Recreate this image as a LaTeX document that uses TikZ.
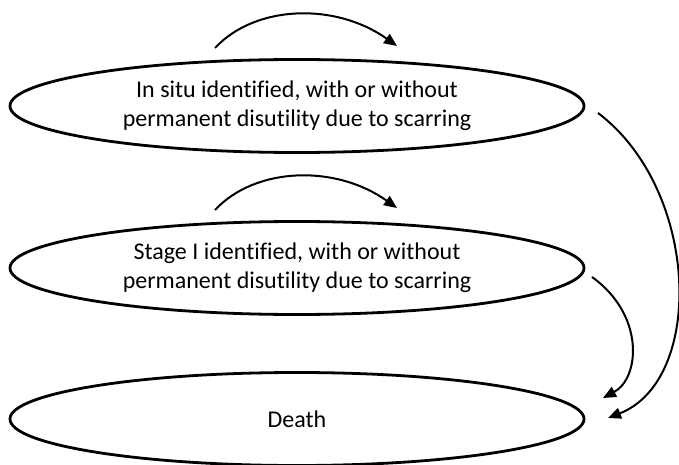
\documentclass[tikz,border=0pt]{standalone}
\usepackage{fontspec}
\setmainfont{Carlito}[Ligatures=NoCommon]
\usepackage{tikz}
\usetikzlibrary{shapes.geometric,arrows.meta}

\tikzset{
  stateellipse/.style={draw, ellipse, line width=2.8pt, minimum width=574pt,
    minimum height=93pt, inner sep=0pt, align=center,
    font=\fontsize{24}{29}\selectfont},
  trans/.style={line width=2pt, -{Triangle[length=13pt,width=11pt]}}
}

\begin{document}
\begin{tikzpicture}[x=1pt,y=-1pt]

    \useasboundingbox (0,0) rectangle (679,465);

    \node[stateellipse] (insitu) at (297,106)
      {In situ identified, with or without\\permanent disutility due to scarring};

    \node[stateellipse] (stageone) at (297,268)
      {Stage I identified, with or without\\permanent disutility due to scarring};

    \node[stateellipse] (death) at (297,419) {Death};


    \coordinate (insituloopa) at (215,48);
    \coordinate (insituloopb) at (397,46);

    \draw[trans] (insituloopa) .. controls (255,5) and (335,2) .. (insituloopb);


    \coordinate (stageloopa) at (215,210);
    \coordinate (stageloopb) at (397,208);

    \draw[trans] (stageloopa) .. controls (255,167) and (335,164) .. (stageloopb);


    \coordinate (insituout) at (598,113);
    \coordinate (deathinb) at (608,418);

    \draw[trans] (insituout) .. controls (700,190) and (705,380) .. (deathinb);


    \coordinate (stageout) at (592,277);
    \coordinate (deathina) at (603,398);

    \draw[trans] (stageout) .. controls (645,315) and (640,378) .. (deathina);

\end{tikzpicture}
\end{document}
